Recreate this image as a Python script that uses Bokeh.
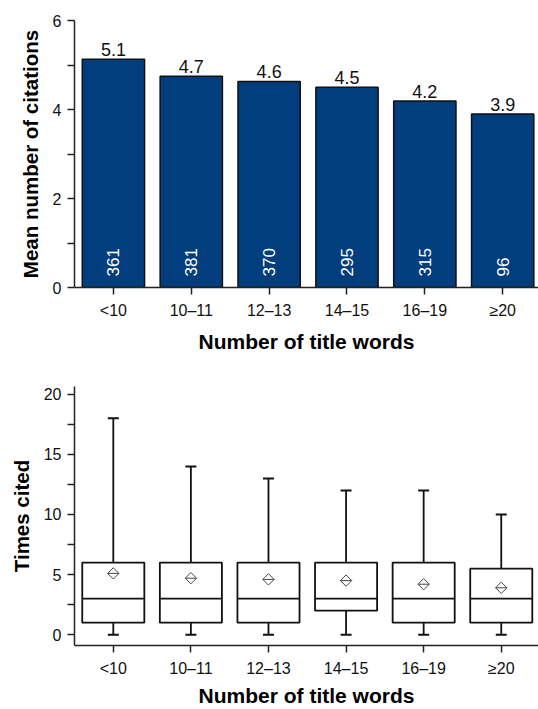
import numpy as np
from bokeh.plotting import figure
from bokeh.layouts import column
from bokeh.models import FixedTicker, Range1d
from bokeh.core.properties import value
from bokeh.embed import file_html
from bokeh.resources import INLINE

# ---------------- data ----------------
categories = ["<10", "10\u201311", "12\u201313", "14\u201315", "16\u201319", "\u226520"]
mean_citations = [5.13, 4.75, 4.63, 4.50, 4.19, 3.90]
mean_labels = ["5.1", "4.7", "4.6", "4.5", "4.2", "3.9"]
article_counts = ["361", "381", "370", "295", "315", "96"]

box_lower = [0, 0, 0, 0, 0, 0]
box_q1 = [1, 1, 1, 2, 1, 1]
box_median = [3, 3, 3, 3, 3, 3]
box_q3 = [6, 6, 6, 6, 6, 5.5]
box_upper = [18, 14, 13, 12, 12, 10]
box_mean = [5.1, 4.7, 4.6, 4.5, 4.2, 3.9]

top_yticks = [0, 2, 4, 6]
top_yminor = [1, 3, 5]
bot_yticks = [0, 5, 10, 15, 20]
bot_yminor = [2.5, 7.5, 12.5, 17.5]

FONT = "Liberation Sans"
BAR_COLOR = "#023e7d"
AX = "#222222"

xs = np.arange(1, len(categories) + 1)


def style(p, yticks, yminor, ylabel):
    p.outline_line_color = None
    p.xgrid.grid_line_color = None
    p.ygrid.grid_line_color = None
    p.background_fill_color = "white"
    p.border_fill_color = "white"
    p.xaxis.ticker = FixedTicker(ticks=list(xs))
    p.xaxis.major_label_overrides = {int(x): c for x, c in zip(xs, categories)}
    p.yaxis.ticker = FixedTicker(ticks=yticks, minor_ticks=yminor)
    for ax in (p.xaxis[0], p.yaxis[0]):
        ax.axis_line_color = AX
        ax.axis_line_width = 1.5
        ax.major_tick_line_color = AX
        ax.major_tick_line_width = 1.5
        ax.minor_tick_line_color = AX
        ax.minor_tick_line_width = 1.5
        ax.major_tick_in = 0
        ax.major_tick_out = 7
        ax.minor_tick_in = 0
        ax.minor_tick_out = 7
        ax.major_label_text_font = FONT
        ax.major_label_text_font_size = "16px"
        ax.major_label_text_color = "#111111"
        ax.axis_label_text_font = FONT
        ax.axis_label_text_font_style = "bold"
        ax.axis_label_text_color = "#000000"
    p.xaxis.minor_tick_line_color = None
    p.xaxis.major_label_standoff = 7
    p.yaxis.major_label_standoff = 6
    p.xaxis.axis_label = "Number of title words"
    p.xaxis.axis_label_text_font_size = "21px"
    p.yaxis.axis_label = ylabel
    p.yaxis.axis_label_text_font_size = "20.5px"
    p.yaxis.axis_label_standoff = 8


# ---------------- top: bar chart ----------------
p1 = figure(width=538, height=355, x_range=Range1d(0.5, 6.46), y_range=Range1d(0, 6),
            output_backend="svg", toolbar_location=None,
            min_border_left=74, min_border_right=0, min_border_top=20, min_border_bottom=68)
style(p1, top_yticks, top_yminor, "Mean number of citations")
p1.xaxis.axis_label_standoff = 8

p1.vbar(x=xs, top=mean_citations, width=0.8, fill_color=BAR_COLOR,
        line_color="#111111", line_width=1.5)
p1.text(x=xs, y=mean_citations, text=mean_labels, text_align="center",
        text_baseline="bottom", y_offset=-3, text_font=value(FONT),
        text_font_size="18px", text_color="#111111")
p1.text(x=xs, y=[0] * len(xs), text=article_counts, angle=np.pi / 2,
        text_align="left", text_baseline="middle", y_offset=-11,
        text_font=value(FONT), text_font_size="17px", text_color="white")

# ---------------- bottom: box plot ----------------
p2 = figure(width=538, height=354, x_range=Range1d(0.5, 6.48), y_range=Range1d(-0.9, 20.65),
            output_backend="svg", toolbar_location=None,
            min_border_left=73, min_border_right=0, min_border_top=31, min_border_bottom=60)
style(p2, bot_yticks, bot_yminor, "Times cited")
p2.xaxis.axis_label_standoff = 4

half = 0.4
p2.segment(x0=xs, y0=box_q3, x1=xs, y1=box_upper, line_color="#111111", line_width=1.8)
p2.segment(x0=xs, y0=box_lower, x1=xs, y1=box_q1, line_color="#111111", line_width=1.8)
p2.scatter(x=xs, y=box_upper, marker="dash", size=11, line_color="#111111", line_width=2)
p2.scatter(x=xs, y=box_lower, marker="dash", size=11, line_color="#111111", line_width=2)
p2.vbar(x=xs, bottom=box_q1, top=box_q3, width=2 * half, fill_color="white",
        line_color="#111111", line_width=1.8)
p2.segment(x0=xs - half, y0=box_median, x1=xs + half, y1=box_median,
           line_color="#111111", line_width=1.8)
p2.scatter(x=xs, y=box_mean, marker="square", angle=np.pi / 4, size=8,
           fill_color="white", line_color="#444444", line_width=1)
p2.scatter(x=xs, y=box_mean, marker="dash", size=11, line_color="#444444", line_width=1)

layout = column(p1, p2, spacing=0)
open("out.html", "w").write(file_html(layout, INLINE))
